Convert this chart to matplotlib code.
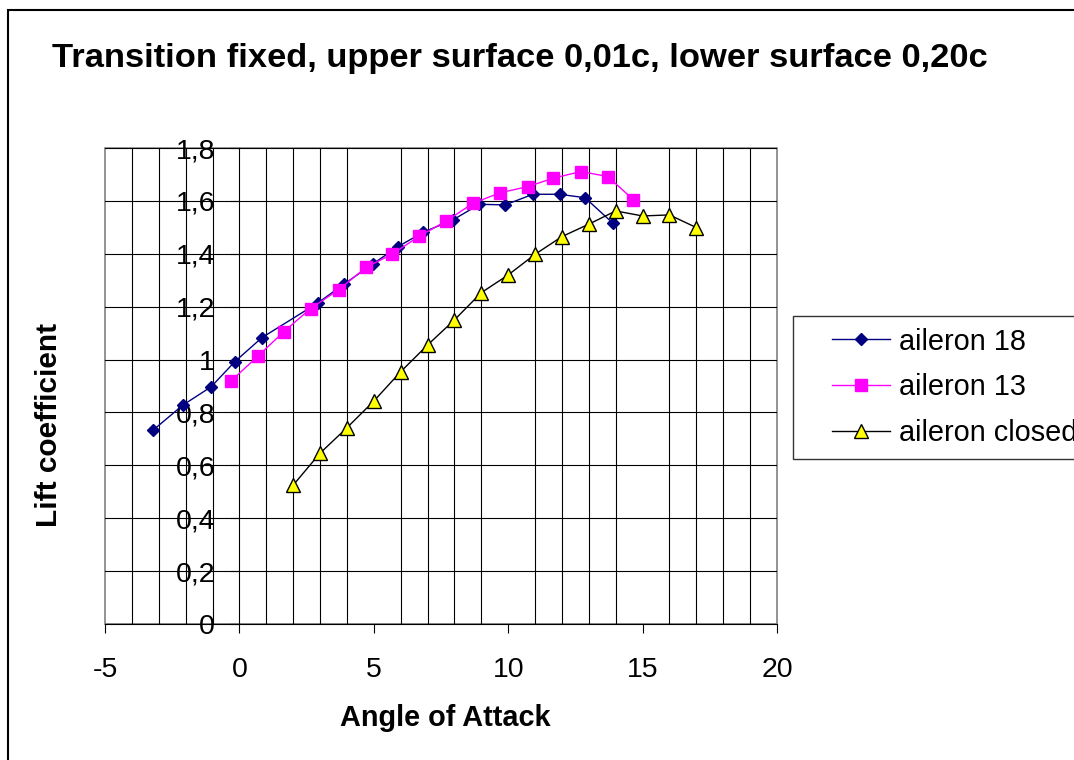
import matplotlib
matplotlib.use("Agg")
import matplotlib.pyplot as plt
from matplotlib.patches import Rectangle
from matplotlib.legend_handler import HandlerLine2D
from matplotlib.ticker import FuncFormatter, MultipleLocator

plt.rcParams["font.family"] = ["Liberation Sans", "DejaVu Sans"]

# values
aoa_18 = [-3.2, -2.1, -1.05, -0.17, 0.84, 2.93, 3.89, 4.97, 5.9, 6.83,
          7.94, 8.93, 9.89, 10.92, 11.91, 12.86, 13.89]
cl_18 = [0.734, 0.828, 0.897, 0.992, 1.083, 1.215, 1.285, 1.362, 1.427, 1.481,
         1.528, 1.587, 1.585, 1.625, 1.625, 1.612, 1.516]

aoa_13 = [-0.3, 0.7, 1.66, 2.65, 3.69, 4.72, 5.69, 6.7, 7.7, 8.69,
          9.71, 10.73, 11.68, 12.71, 13.71, 14.66]
cl_13 = [0.92, 1.014, 1.106, 1.193, 1.264, 1.349, 1.399, 1.467, 1.524, 1.591,
         1.631, 1.654, 1.686, 1.711, 1.692, 1.604]

aoa_closed = [2, 3, 4, 5, 6, 7, 8, 9, 10, 11, 12, 13, 14, 15, 16, 17]
cl_closed = [0.525, 0.646, 0.742, 0.843, 0.954, 1.055, 1.15, 1.253, 1.32, 1.398,
             1.465, 1.512, 1.562, 1.543, 1.547, 1.499]

W, H = 1074, 760


class ShiftedHandler(HandlerLine2D):
    # Excel style legend: the sample line starts a bit inside the box
    def create_artists(self, legend, orig_handle, xdescent, ydescent,
                       width, height, fontsize, trans):
        shift = width * 0.32
        return super().create_artists(legend, orig_handle, xdescent - shift,
                                      ydescent, width - shift, height,
                                      fontsize, trans)


def main() -> None:
    fig = plt.figure(figsize=(W / 100, H / 100), dpi=100)
    ax = fig.add_axes([105 / W, 1 - 624 / H, (777 - 105) / W, (624 - 148) / H])

    ax.plot(aoa_18, cl_18, color="#000080", lw=1.0, marker="D", ms=6.5,
            mfc="#000080", mec="#000080", label="aileron 18", zorder=3)
    ax.plot(aoa_13, cl_13, color="#FF00FF", lw=1.0, marker="s", ms=8,
            mfc="#FF00FF", mec="#FF00FF", label="aileron 13", zorder=4)
    ax.plot(aoa_closed, cl_closed, color="black", lw=1.0, marker="^", ms=9.5,
            mfc="#FFFF00", mec="black", mew=1.0, label="aileron closed", zorder=5)

    ax.set_xlim(-5, 20)
    ax.set_ylim(0, 1.8)

    ax.xaxis.set_major_locator(MultipleLocator(5))
    ax.xaxis.set_minor_locator(MultipleLocator(1))
    ax.yaxis.set_major_locator(MultipleLocator(0.2))
    ax.grid(True, which="minor", axis="x", color="black", lw=0.8)
    ax.grid(True, which="major", axis="y", color="black", lw=0.8)
    ax.set_axisbelow(True)

    fmt = lambda v, p: ("%g" % round(v, 1)).replace(".", ",")
    ax.yaxis.set_major_formatter(FuncFormatter(fmt))
    ax.xaxis.set_major_formatter(FuncFormatter(fmt))

    # y axis crosses at x = 0 like the Excel original
    ax.spines["left"].set_position(("data", 0))
    ax.spines["left"].set_color("black")
    ax.spines["bottom"].set_color("black")
    for s in ["top", "right"]:
        ax.spines[s].set_visible(False)
    ax.add_patch(Rectangle((0, 0), 1, 1, transform=ax.transAxes, fill=False,
                           edgecolor="#808080", lw=1.2, zorder=0.5, clip_on=False))

    ax.tick_params(axis="x", which="major", direction="out", length=6.5,
                   width=0.8, pad=17.5, labelsize=20.5)
    ax.tick_params(axis="x", which="minor", length=0)
    ax.tick_params(axis="y", direction="out", length=6.5, width=0.8, pad=11,
                   labelsize=20.5)

    fig.text(52 / W, 1 - 58 / H, "Transition fixed, upper surface 0,01c, lower surface 0,20c",
             ha="left", va="center", fontsize=24.8, fontweight="bold")
    fig.text(445 / W, 1 - 718 / H, "Angle of Attack", ha="center", va="center",
             fontsize=20.8, fontweight="bold")
    fig.text(49 / W, 1 - 425 / H, "Lift coefficient", ha="center", va="center",
             rotation=90, fontsize=21.5, fontweight="bold")

    leg = fig.legend(loc="upper left", bbox_to_anchor=(793 / W, 1 - 316 / H),
                     fontsize=20.8, frameon=True, fancybox=False, shadow=False,
                     borderpad=0.4, labelspacing=0.62, handlelength=2.95,
                     handletextpad=0.31, borderaxespad=0,
                     handler_map={plt.Line2D: ShiftedHandler()})
    leg.get_frame().set_edgecolor("black")
    leg.get_frame().set_linewidth(1.0)

    # chart area frame, running off the right and bottom edge
    fig.patches.append(Rectangle((8 / W, -0.1), 1.2, 1 - 10 / H + 0.1,
                                 transform=fig.transFigure, fill=False,
                                 edgecolor="black", lw=1.5))

    fig.savefig("out.png", dpi=100)
    plt.close(fig)


if __name__ == "__main__":
    main()
